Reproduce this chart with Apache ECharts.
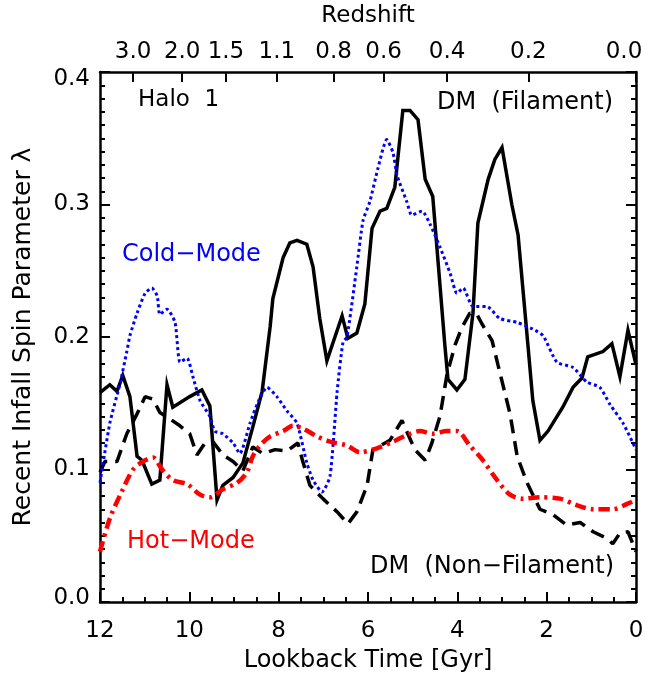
<!DOCTYPE html>
<html>
<head>
<meta charset="utf-8">
<script src="https://cdn.jsdelivr.net/npm/echarts@6/dist/echarts.min.js"></script>
<style>
html,body{margin:0;padding:0;background:#fff;}
#chart{width:657px;height:678px;}
</style>
</head>
<body>
<div id="chart"></div>
<script>
// Lookback time [Gyr] and spin parameter for each series
const filamentTime = [12.00,11.78,11.62,11.49,11.33,11.17,11.06,10.84,10.66,10.50,10.37,9.99,9.72,9.54,9.38,9.25,9.02,8.80,8.58,8.37,8.19,8.13,7.90,7.75,7.59,7.37,7.23,7.08,6.92,6.58,6.45,6.25,6.07,5.91,5.73,5.58,5.40,5.22,5.06,4.88,4.72,4.55,4.28,4.21,4.01,3.83,3.65,3.54,3.31,3.16,3.00,2.78,2.64,2.42,2.31,2.15,1.97,1.64,1.41,1.21,1.08,0.74,0.54,0.36,0.18,0.00];
const filamentSpin = [0.158,0.164,0.159,0.171,0.155,0.110,0.107,0.089,0.092,0.164,0.147,0.155,0.160,0.148,0.077,0.088,0.094,0.105,0.132,0.159,0.208,0.229,0.260,0.271,0.273,0.270,0.253,0.214,0.182,0.216,0.199,0.203,0.225,0.282,0.295,0.297,0.313,0.371,0.371,0.364,0.319,0.306,0.194,0.168,0.160,0.168,0.218,0.286,0.319,0.334,0.343,0.300,0.277,0.194,0.152,0.122,0.129,0.147,0.162,0.169,0.185,0.189,0.195,0.170,0.205,0.179];

const nonFilamentTime = [12.00,11.89,11.62,11.40,11.17,10.99,10.81,10.66,10.43,10.21,9.99,9.83,9.65,9.47,9.25,9.02,8.80,8.58,8.35,8.08,7.81,7.57,7.46,7.30,7.01,6.69,6.45,6.25,6.02,5.89,5.51,5.24,5.11,4.95,4.72,4.57,4.39,4.23,4.05,3.90,3.72,3.56,3.45,3.22,3.09,2.82,2.66,2.44,2.15,1.86,1.55,1.25,0.96,0.65,0.52,0.36,0.18,0.00];
const nonFilamentSpin = [0.098,0.106,0.106,0.127,0.142,0.155,0.153,0.143,0.138,0.133,0.127,0.111,0.120,0.121,0.111,0.106,0.099,0.117,0.112,0.115,0.114,0.120,0.106,0.088,0.078,0.068,0.059,0.068,0.088,0.115,0.122,0.137,0.127,0.115,0.107,0.120,0.140,0.172,0.194,0.207,0.218,0.217,0.210,0.197,0.179,0.142,0.110,0.090,0.070,0.066,0.058,0.060,0.053,0.048,0.044,0.052,0.053,0.038];

const coldTime = [12.00,11.78,11.55,11.40,11.33,11.17,10.99,10.84,10.72,10.66,10.50,10.32,10.21,10.05,9.92,9.76,9.54,9.43,9.25,9.02,8.87,8.64,8.46,8.26,8.04,7.81,7.59,7.37,7.23,7.03,6.85,6.69,6.56,6.47,6.25,6.11,5.96,5.78,5.58,5.44,5.35,5.13,5.02,4.79,4.61,4.39,4.16,4.01,3.87,3.65,3.34,3.05,2.66,2.31,2.08,1.77,1.41,1.10,0.81,0.58,0.29,0.00];
const coldSpin = [0.090,0.135,0.165,0.189,0.201,0.218,0.233,0.237,0.231,0.217,0.221,0.211,0.181,0.184,0.170,0.152,0.140,0.129,0.127,0.120,0.112,0.135,0.151,0.162,0.155,0.144,0.135,0.105,0.092,0.083,0.095,0.159,0.196,0.200,0.253,0.288,0.302,0.327,0.349,0.339,0.322,0.302,0.292,0.295,0.285,0.268,0.248,0.233,0.237,0.223,0.223,0.214,0.211,0.206,0.201,0.181,0.177,0.166,0.162,0.149,0.135,0.115];

const hotTime = [12.00,11.78,11.49,11.26,11.04,10.81,10.61,10.37,10.05,9.76,9.54,9.25,8.93,8.71,8.58,8.42,8.19,7.90,7.68,7.46,7.14,6.85,6.47,6.18,5.80,5.44,5.13,4.84,4.55,4.23,4.01,3.72,3.43,3.11,2.82,2.53,2.15,1.70,1.32,0.96,0.52,0.20,0.00];
const hotSpin = [0.038,0.063,0.085,0.100,0.106,0.109,0.100,0.092,0.089,0.081,0.079,0.085,0.090,0.098,0.110,0.118,0.125,0.129,0.133,0.131,0.125,0.121,0.118,0.113,0.116,0.121,0.126,0.129,0.127,0.129,0.129,0.118,0.107,0.092,0.081,0.078,0.079,0.078,0.073,0.070,0.070,0.074,0.077];

// Top axis: redshift labels and the lookback times at which they sit
const redshiftLabels = ['3.0','2.0','1.5','1.1','0.8','0.6','0.4','0.2','0.0'];
const redshiftTimes = [11.26,10.16,9.18,8.04,6.77,5.65,4.23,2.41,0.0];

const pairs = (xs, ys) => xs.map((x, i) => [x, ys[i]]);
const FONT = 'DejaVu Sans';

const chart = echarts.init(document.getElementById('chart'), null, {renderer: 'canvas'});
const axisLineStyle = {color: '#000', width: 2.5};
const tickStyle = {color: '#000', width: 2};
const option = {
  animation: false,
  backgroundColor: '#fff',
  grid: {left: 100, right: 21, top: 62, bottom: 75, show: false},
  xAxis: [
    {
      type: 'value', position: 'bottom', min: 0, max: 12, interval: 2, inverse: true,
      name: 'Lookback Time [Gyr]', nameLocation: 'middle', nameGap: 47,
      nameTextStyle: {fontFamily: FONT, fontSize: 24, color: '#000'},
      axisLine: {show: true, onZero: false, lineStyle: axisLineStyle},
      axisTick: {show: true, inside: true, length: 10, lineStyle: tickStyle},
      minorTick: {show: true, splitNumber: 4, length: 5, lineStyle: tickStyle},
      axisLabel: {fontFamily: FONT, fontSize: 23, color: '#000', margin: 18},
      splitLine: {show: false}, minorSplitLine: {show: false}
    },
    {
      type: 'value', position: 'top', min: 0, max: 12, inverse: true,
      name: 'Redshift', nameLocation: 'middle', nameGap: 44,
      nameTextStyle: {fontFamily: FONT, fontSize: 23, color: '#000'},
      axisLine: {show: true, onZero: false, lineStyle: axisLineStyle},
      axisTick: {show: true, inside: true, length: 10, customValues: redshiftTimes, lineStyle: tickStyle},
      axisLabel: {
        fontFamily: FONT, fontSize: 23, color: '#000', margin: 8,
        customValues: redshiftTimes,
        formatter: function (v) {
          let best = 0, bd = 1e9;
          redshiftTimes.forEach((t, i) => { const d = Math.abs(t - v); if (d < bd) { bd = d; best = i; } });
          if (best === redshiftLabels.length - 1) return '{end|' + redshiftLabels[best] + '}';
          return redshiftLabels[best];
        },
        rich: {
          end: {fontFamily: FONT, fontSize: 23, color: '#000', padding: [0, 24, 0, 0]}
        }
      },
      splitLine: {show: false}
    }
  ],
  yAxis: [
    {
      type: 'value', position: 'left', min: 0, max: 0.4, interval: 0.1,
      name: 'Recent Infall Spin Parameter λ', nameLocation: 'middle', nameGap: 64,
      nameTextStyle: {fontFamily: FONT, fontSize: 25, color: '#000'},
      axisLine: {show: true, onZero: false, lineStyle: axisLineStyle},
      axisTick: {show: true, inside: true, length: 10, lineStyle: tickStyle},
      minorTick: {show: true, splitNumber: 10, length: 5, lineStyle: tickStyle},
      axisLabel: {
        fontFamily: FONT, fontSize: 23, color: '#000', margin: 10,
        formatter: v => {
          const s = v.toFixed(1);
          if (v >= 0.399) return '{top|' + s + '}';
          if (v <= 0.001) return '{bot|' + s + '}';
          return s;
        },
        rich: {
          top: {fontFamily: FONT, fontSize: 23, color: '#000', padding: [14, 0, 0, 0]},
          bot: {fontFamily: FONT, fontSize: 23, color: '#000', padding: [0, 0, 8, 0]}
        }
      },
      splitLine: {show: false}, minorSplitLine: {show: false}
    },
    {
      type: 'value', position: 'right', min: 0, max: 0.4, interval: 0.1,
      axisLine: {show: true, onZero: false, lineStyle: axisLineStyle},
      axisTick: {show: true, inside: true, length: 10, lineStyle: tickStyle},
      minorTick: {show: true, splitNumber: 10, length: 5, lineStyle: tickStyle},
      axisLabel: {show: false},
      splitLine: {show: false}, minorSplitLine: {show: false}
    }
  ],
  series: [
    {
      name: 'DM (Filament)', type: 'line', data: pairs(filamentTime, filamentSpin),
      showSymbol: false, symbol: 'none', clip: true,
      lineStyle: {color: '#000', width: 3.5, type: 'solid', join: 'miter'}
    },
    {
      name: 'DM (Non-Filament)', type: 'line', data: pairs(nonFilamentTime, nonFilamentSpin),
      showSymbol: false, symbol: 'none', clip: true,
      lineStyle: {color: '#000', width: 3.5, type: [14, 8]}
    },
    {
      name: 'Cold-Mode', type: 'line', data: pairs(coldTime, coldSpin),
      showSymbol: false, symbol: 'none', clip: true, smooth: 0.2,
      lineStyle: {color: '#0000ff', width: 3, type: [3, 3]}
    },
    {
      name: 'Hot-Mode', type: 'line', data: pairs(hotTime, hotSpin),
      showSymbol: false, symbol: 'none', clip: true, smooth: 0.3,
      lineStyle: {color: '#ff0000', width: 4.5, type: [11, 5, 3, 5]}
    }
  ],
  graphic: [
    {type: 'text', left: 138, top: 89, style: {text: 'Halo  1', fontFamily: FONT, fontSize: 23, fill: '#000'}},
    {type: 'text', left: 437, top: 91, style: {text: 'DM  (Filament)', fontFamily: FONT, fontSize: 24, fill: '#000'}},
    {type: 'text', left: 122, top: 243, style: {text: 'Cold\u2212Mode', fontFamily: FONT, fontSize: 24, fill: '#0000ff'}},
    {type: 'text', left: 127, top: 530, style: {text: 'Hot\u2212Mode', fontFamily: FONT, fontSize: 24, fill: '#ff0000'}},
    {type: 'text', left: 370, top: 555, style: {text: 'DM  (Non\u2212Filament)', fontFamily: FONT, fontSize: 24, fill: '#000'}}
  ]
};
chart.setOption(option);
</script>
</body>
</html>
